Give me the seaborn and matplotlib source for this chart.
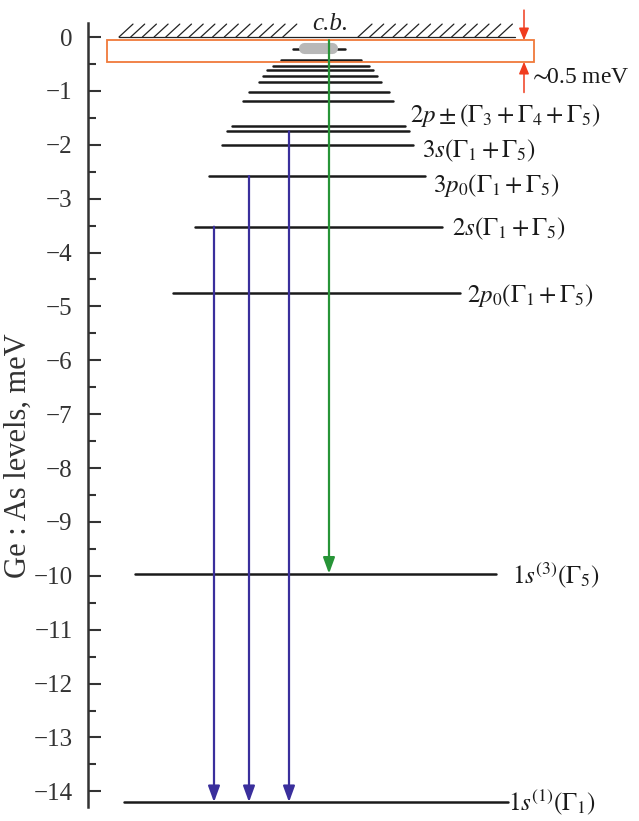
import numpy as np
import matplotlib
matplotlib.use('Agg')
import matplotlib.pyplot as plt
from matplotlib.patches import Rectangle
import seaborn as sns

# Ge:As donor levels (meV)
level_energies = [-14.2, -9.96, -4.76, -3.52, -2.58, -2.01, -1.75, -1.66]
level_labels = [r'$1s^{(1)}(\Gamma_1)$', r'$1s^{(3)}(\Gamma_5)$',
                r'$2p_0(\Gamma_1+\Gamma_5)$', r'$2s(\Gamma_1+\Gamma_5)$',
                r'$3p_0(\Gamma_1+\Gamma_5)$', r'$3s(\Gamma_1+\Gamma_5)$',
                '', r'$2p\pm(\Gamma_3+\Gamma_4+\Gamma_5)$']
# higher excited states piling up under the conduction band
upper_energies = [-1.18, -1.02, -0.83, -0.73, -0.62, -0.54, -0.42, -0.23]

# transitions
blue_from = [-3.52, -2.58, -1.75]
blue_to = -14.2
green_from = -0.06
green_to = -9.96

band_edge = 0.0
window_top, window_bottom = -0.06, -0.46   # ~0.5 meV window
blob_energy = -0.20

# layout (horizontal positions in pixel-like units)
level_x = [(124, 508), (135, 496), (173, 460), (195, 442), (209, 425),
           (222, 413), (227, 409), (232, 405)]
upper_x = [(243, 393), (249, 389), (259, 381), (263, 377), (267, 373),
           (273, 369), (281, 361), (293, 345)]
label_pos = [(508, -14.2), (512, -9.99), (467, -4.80), (452, -3.56),
             (433, -2.76), (422, -2.11), None, (410, -1.46)]
blue_x = [214, 249, 289]
green_x = 329

sns.set_theme(style='ticks')
plt.rcParams['font.family'] = ['Liberation Serif', 'DejaVu Serif']
plt.rcParams['mathtext.fontset'] = 'stix'

fig = plt.figure(figsize=(6.39, 8.21), dpi=100)
ax = fig.add_axes([88 / 639, 1 - 807.5 / 821, 551 / 639, 784.5 / 821])
ax.set_xlim(88, 639)
ax.set_ylim(-14.3, 0.26)

# conduction band edge with hatching
ax.plot([119, 515], [band_edge, band_edge], color='#222222', lw=0.9, clip_on=False)
for xb in list(np.arange(119, 290, 11.7)) + list(np.arange(358, 510, 11.7)):
    ax.plot([xb, xb + 14], [band_edge, band_edge + 0.24], color='#222222', lw=0.9, clip_on=False)
ax.text(330, 0.25, 'c.b.', style='italic', fontsize=18, ha='center', va='center', color='#222222')

# levels
for e, (x0, x1) in zip(level_energies, level_x):
    ax.plot([x0, x1], [e, e], color='#1a1a1a', lw=1.8)
for e, (x0, x1) in zip(upper_energies, upper_x):
    ax.plot([x0, x1], [e, e], color='#1a1a1a', lw=1.8)
for lab, pos in zip(level_labels, label_pos):
    if pos is None:
        continue
    ax.text(pos[0], pos[1], lab, fontsize=18, ha='left', va='center', color='#1a1a1a')

# grey blob
ax.plot([303.5, 331.5], [blob_energy, blob_energy], color='#b8b8b8', lw=8,
        solid_capstyle='round', zorder=3)

# orange window
ax.add_patch(Rectangle((107, window_bottom), 427, window_top - window_bottom,
                       fill=False, ec='#f07a3a', lw=1.3, zorder=4, clip_on=False))
red = dict(arrowstyle='-|>,head_length=0.6,head_width=0.25', color='#f03c1e', lw=1.1,
           mutation_scale=12, shrinkA=0, shrinkB=0)
ax.annotate('', xy=(524, window_top), xytext=(524, 0.5), arrowprops=red, annotation_clip=False)
ax.annotate('', xy=(524, window_bottom), xytext=(524, -1.03), arrowprops=red, annotation_clip=False)
ax.text(529, -0.76, r'$\sim\!\!$0.5 meV', fontsize=17, ha='left', va='center', color='#1a1a1a')

# transitions
arrow = '-|>,head_length=0.6,head_width=0.22'
for x, e in zip(blue_x, blue_from):
    ax.annotate('', xy=(x, blue_to), xytext=(x, e),
                arrowprops=dict(arrowstyle=arrow, color='#3a2f9c', lw=1.6,
                                mutation_scale=16, shrinkA=0, shrinkB=0), zorder=5)
ax.annotate('', xy=(green_x, green_to), xytext=(green_x, green_from),
            arrowprops=dict(arrowstyle=arrow, color='#279437', lw=1.6,
                            mutation_scale=16, shrinkA=0, shrinkB=0), zorder=5)

# axis
ax.set_yticks(np.arange(0, -15, -1))
ax.set_yticks(np.arange(-0.5, -14.5, -1), minor=True)
ax.set_xticks([])
ax.tick_params(axis='y', which='major', direction='in', length=9, width=1.5,
               pad=11, labelsize=18, colors='#333333')
ax.tick_params(axis='y', which='minor', direction='in', length=6, width=1.5, colors='#333333')
sns.despine(ax=ax, bottom=True)
ax.spines['left'].set_linewidth(1.8)
ax.spines['left'].set_color('#333333')
ax.set_ylabel('Ge : As levels, meV', fontsize=22, color='#333333')
ax.yaxis.set_label_coords(-0.1, 0.449)

fig.savefig('out.png', dpi=100)
